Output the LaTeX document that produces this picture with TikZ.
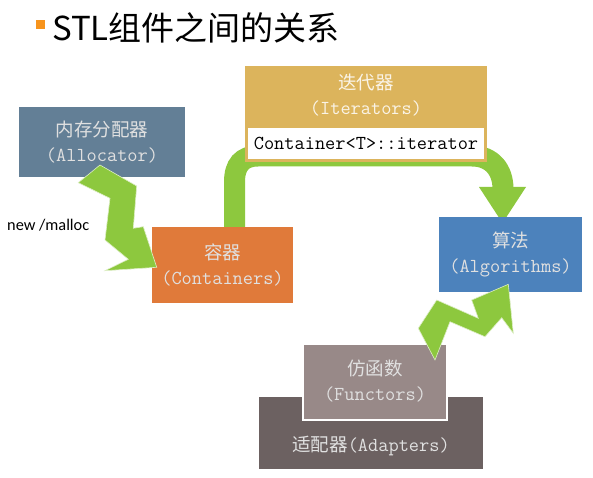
\documentclass[tikz,border=0pt]{standalone}
\usepackage{fontspec}
\newfontfamily\cjk{Noto Sans CJK SC}
\newfontfamily\labelfont{Carlito}
\definecolor{allocC}{RGB}{99,127,150}
\definecolor{iterC}{RGB}{220,180,92}
\definecolor{contC}{RGB}{224,122,58}
\definecolor{algoC}{RGB}{76,130,188}
\definecolor{funcC}{RGB}{152,137,136}
\definecolor{adaptC}{RGB}{108,97,97}
\definecolor{arrowC}{RGB}{141,200,62}
\definecolor{bulletC}{RGB}{247,148,29}
\tikzset{
  box/.style={rectangle, inner sep=0pt, align=center, text=white!88!black,
    font=\fontsize{19}{25}\selectfont},
  zz/.style={fill=arrowC, draw=white!70!arrowC, line width=0.6pt, line join=miter},
}
\newcommand{\cn}[1]{{\cjk\fontsize{18.5}{25}\selectfont #1}}
\newcommand{\lt}[1]{{\ttfamily\fontsize{19.8}{25}\selectfont #1}}
\begin{document}
\begin{tikzpicture}[x=1pt,y=-1pt]
\useasboundingbox (0,0) rectangle (593,478);
\fill[white] (0,0) rectangle (593,478);
% title
\fill[bulletC] (36,20) rectangle (45,29);
\node[anchor=base west, inner sep=0pt, font=\cjk\fontsize{33}{36}\selectfont] (title) at (52,41) {STL组件之间的关系};
% big green connector (behind boxes)
\draw[arrowC, line width=21pt] (234.5,230) -- (234.5,182) .. controls (234.5,165) and (242,156) .. (258,156) -- (472,156) .. controls (492,156) and (503,170) .. (503,189);
\fill[arrowC] (479,187) -- (526,187) -- (502.5,223) -- cycle;
% boxes
\node[box, fill=allocC, minimum width=166pt, minimum height=70pt] (alloc) at (102,142) {\cn{内存分配器}\\\lt{(Allocator)}};
\node[box, fill=iterC, minimum width=242pt, minimum height=96pt] (iter) at (366,114) {};
\node[box, text=white!85!iterC, anchor=north] (itertext) at (366,74) {\cn{迭代器}\\\lt{(Iterators)}};
\node[box, fill=white, text=black, minimum width=236pt, minimum height=31pt] (itertype) at (366,143.5) {\lt{Container<T>::iterator}};
\node[box, fill=contC, minimum width=141pt, minimum height=76pt] (cont) at (222.5,265) {\cn{容器}\\\lt{(Containers)}};
\node[box, fill=algoC, minimum width=143pt, minimum height=75pt] (algo) at (510.5,254) {\cn{算法}\\\lt{(Algorithms)}};
\node[box, fill=adaptC, minimum width=224pt, minimum height=72pt] (adapt) at (371,433) {};
\node[box, anchor=center] (adapttext) at (371,446) {\cn{适配器}\lt{(Adapters)}};
\node[box, fill=funcC, draw=white, line width=2pt, minimum width=144pt, minimum height=76pt] (func) at (375,381.5) {\cn{仿函数}\\\lt{(Functors)}};
% zigzag arrows
\filldraw[zz] (78.3,182.7) -- (100,165) -- (136.7,186) -- (133.3,228.3) -- (143.3,226.7) -- (156.7,267.3) -- (105,270.7) -- (128.3,259.3) -- (105,240) -- (110,198.3) -- cycle;
\filldraw[zz] (435,360) -- (418.3,328.3) -- (436.7,300) -- (478.3,318.3) -- (471.7,300) -- (508.3,284.3) -- (513.3,333.3) -- (501.7,317.7) -- (485,336.7) -- (450,321.7) -- cycle;
% label
\node[anchor=west, inner sep=0pt, font=\labelfont\fontsize{16.3}{18}\selectfont] (newlbl) at (7,225) {new /malloc};
\end{tikzpicture}
\end{document}
